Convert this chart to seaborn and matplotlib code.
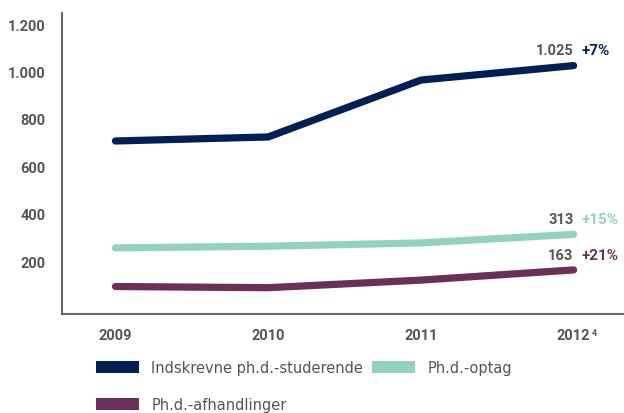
import pandas as pd
import seaborn as sns
import matplotlib.pyplot as plt
from matplotlib.patches import Patch

# Data
years = ['2009', '2010', '2011', '2012']
indskrevne = [707, 724, 964, 1025]
optag = [256, 263, 277, 313]
afhandlinger = [93, 88, 120, 163]
series_names = ['Indskrevne ph.d.-studerende', 'Ph.d.-optag', 'Ph.d.-afhandlinger']
end_labels = ['1.025', '313', '163']
growth_labels = ['+7%', '+15%', '+21%']
colors = ['#001f54', '#93d2c3', '#6b2f59']
yticks = [200, 400, 600, 800, 1000, 1200]
ytick_labels = ['200', '400', '600', '800', '1.000', '1.200']

rows = []
for name, vals in zip(series_names, [indskrevne, optag, afhandlinger]):
    for i, v in enumerate(vals):
        rows.append({'x': i, 'year': years[i], 'value': v, 'serie': name})
df = pd.DataFrame(rows)

sns.set_style('white')
plt.rcParams['font.family'] = ['Roboto', 'DejaVu Sans']
gray = '#555555'

fig = plt.figure(figsize=(6.24, 4.14), dpi=100)
ax = fig.add_axes([62 / 624, 1 - 315 / 414, 1 - 62 / 624, (315 - 14) / 414])

sns.lineplot(data=df, x='x', y='value', hue='serie', palette=colors,
             linewidth=5.2, legend=False, ax=ax,
             solid_capstyle='round', solid_joinstyle='miter')

ax.set_xlim(-0.35, 3.33)
ax.set_ylim(-23, 1247)
ax.set_yticks(yticks)
ax.set_yticklabels(ytick_labels)
ax.set_xticks(range(len(years)))
ax.set_xticklabels(years)
ax.set_xlabel('')
ax.set_ylabel('')
ax.tick_params(axis='both', length=0, labelsize=10.5, labelcolor=gray)
ax.tick_params(axis='y', pad=12)
ax.tick_params(axis='x', pad=10)
for lab in ax.get_xticklabels() + ax.get_yticklabels():
    lab.set_fontweight('bold')

for side in ['top', 'right']:
    ax.spines[side].set_visible(False)
for side in ['left', 'bottom']:
    ax.spines[side].set_color('#666666')
    ax.spines[side].set_linewidth(1.5)

# superscript on 2012
ax.annotate('4', xy=(3, 0), xycoords=('data', 'axes fraction'),
            xytext=(13, -10), textcoords='offset points',
            fontsize=6.5, color=gray, fontweight='bold', va='top')

# end labels
last_vals = [indskrevne[-1], optag[-1], afhandlinger[-1]]
for v, lab, gr, c in zip(last_vals, end_labels, growth_labels, colors):
    ax.annotate(lab, xy=(3, v), xytext=(0, 6), textcoords='offset points',
                ha='right', va='bottom', fontsize=10.5, fontweight='bold', color=gray)
    ax.annotate(gr, xy=(3, v), xytext=(6, 6), textcoords='offset points',
                ha='left', va='bottom', fontsize=11, fontweight='bold', color=c)

# legend filled column-wise: order so rows read Indskrevne, Optag / Afhandlinger
order = [0, 2, 1]
handles = [Patch(facecolor=colors[i], edgecolor='none', label=series_names[i]) for i in order]
fig.legend(handles=handles, loc='upper left', bbox_to_anchor=(96 / 624, 1 - 361 / 414),
           ncol=2, frameon=False, labelcolor=gray,
           prop={'family': 'DejaVu Sans', 'size': 10.5},
           handlelength=2.95, handleheight=0.9, handletextpad=0.85,
           columnspacing=0.6, labelspacing=1.5, borderaxespad=0, borderpad=0)

fig.savefig('out.png', dpi=100)
